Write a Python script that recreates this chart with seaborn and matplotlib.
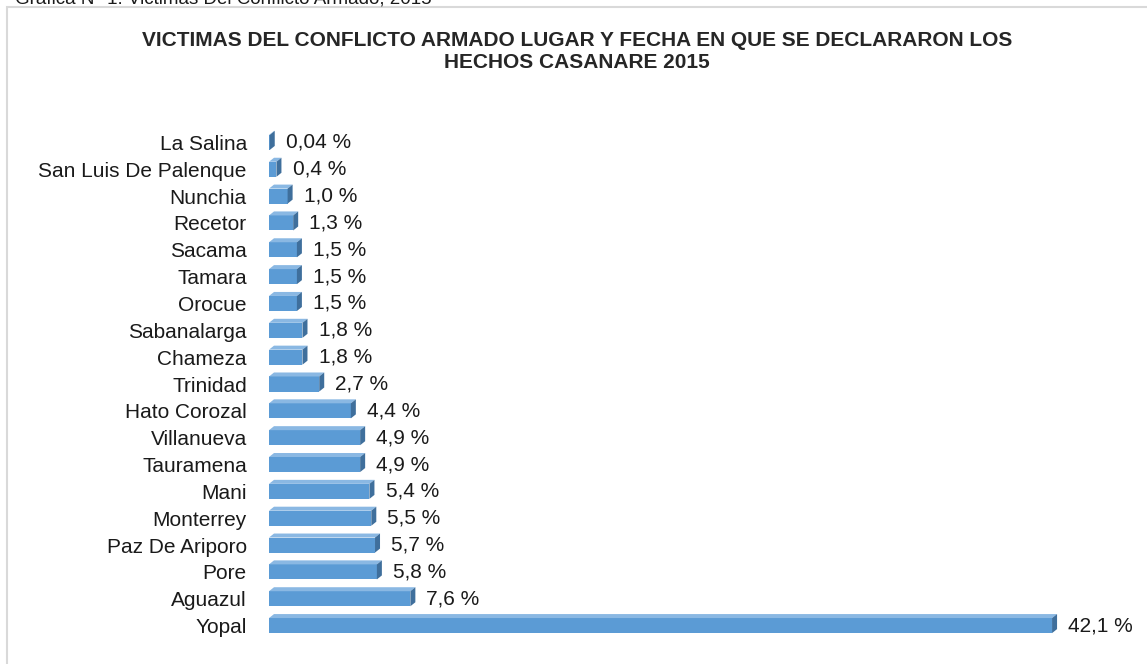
import matplotlib
matplotlib.use('Agg')
import matplotlib.pyplot as plt
import seaborn as sns
import pandas as pd
from matplotlib.patches import Polygon, Rectangle

# Data
municipios = ['La Salina', 'San Luis De Palenque', 'Nunchia', 'Recetor', 'Sacama',
              'Tamara', 'Orocue', 'Sabanalarga', 'Chameza', 'Trinidad', 'Hato Corozal',
              'Villanueva', 'Tauramena', 'Mani', 'Monterrey', 'Paz De Ariporo', 'Pore',
              'Aguazul', 'Yopal']
porcentajes = [0.04, 0.4, 1.0, 1.3, 1.5, 1.5, 1.5, 1.8, 1.8, 2.7, 4.4,
               4.9, 4.9, 5.4, 5.5, 5.7, 5.8, 7.6, 42.1]
etiquetas = ['0,04 %', '0,4 %', '1,0 %', '1,3 %', '1,5 %', '1,5 %', '1,5 %', '1,8 %',
             '1,8 %', '2,7 %', '4,4 %', '4,9 %', '4,9 %', '5,4 %', '5,5 %', '5,7 %',
             '5,8 %', '7,6 %', '42,1 %']

titulo = 'VICTIMAS DEL CONFLICTO ARMADO LUGAR Y FECHA EN QUE SE DECLARARON LOS\nHECHOS CASANARE 2015'
leyenda_sup = 'Grafica N° 1: Victimas Del Conflicto Armado, 2015'

df = pd.DataFrame({'municipio': municipios, 'pct': porcentajes})

sns.set_style('white')
plt.rcParams['font.family'] = ['Liberation Sans', 'DejaVu Sans']

W, H = 1147, 664
fig = plt.figure(figsize=(W / 100, H / 100), dpi=100)
ax_left, ax_w = 269, 837
ax_top, ax_h = 129, 510
ax = fig.add_axes([ax_left / W, (H - ax_top - ax_h) / H, ax_w / W, ax_h / H])

front = '#5b9bd5'
top_c = '#8ab8e3'
side_c = '#3f6f9c'

sns.barplot(data=df, x='pct', y='municipio', orient='h', color=front,
            saturation=1, width=0.56, ax=ax)
ax.set_xlim(0, 45)
ax.set_ylim(len(municipios) - 0.5, -0.5)

# pseudo 3D depth (pixels converted to data units)
dx = 5 * 45 / ax_w
dy = 4 * len(municipios) / ax_h
for p, lab in zip(ax.patches, etiquetas):
    x0, y0 = p.get_x(), p.get_y()
    w, h = p.get_width(), p.get_height()
    p.set_edgecolor('none')
    # top face (y axis inverted: y0 is the upper edge)
    ax.add_patch(Polygon([(x0, y0), (x0 + w, y0), (x0 + w + dx, y0 - dy), (x0 + dx, y0 - dy)],
                         closed=True, facecolor=top_c, edgecolor='none'))
    # side face
    ax.add_patch(Polygon([(x0 + w, y0), (x0 + w + dx, y0 - dy), (x0 + w + dx, y0 + h - dy),
                          (x0 + w, y0 + h)], closed=True, facecolor=side_c, edgecolor='none'))
    ax.annotate(lab, (x0 + w + dx, y0 + h / 2), xytext=(8, 0), textcoords='offset points',
                va='center', ha='left', fontsize=15, color='#1a1a1a')

ax.set_xlabel('')
ax.set_ylabel('')
ax.set_xticks([])
ax.tick_params(axis='y', length=0, pad=16, labelsize=15, labelcolor='#1a1a1a')
sns.despine(ax=ax, left=True, bottom=True)

fig.text(577 / W, 1 - 52 / H, titulo, ha='center', va='center', fontsize=15,
         fontweight='bold', linespacing=1.2)
fig.text(15 / W, 1 - 4 / H, leyenda_sup, ha='left', va='baseline', fontsize=13.5,
         color='#1a1a1a')

fig.patches.append(Rectangle((7 / W, -0.05), (W + 20) / W, 1 - 7 / H + 0.05,
                             transform=fig.transFigure, fill=False,
                             edgecolor='#d9d9d9', linewidth=1.5))

fig.savefig('out.png', dpi=100)
